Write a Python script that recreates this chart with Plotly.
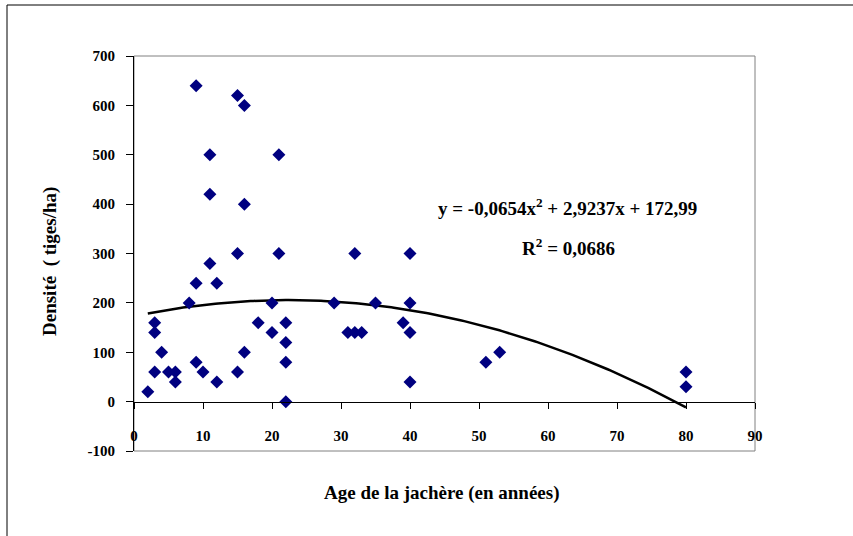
import numpy as np
import plotly.graph_objects as go

# Data
age = [2, 3, 3, 3, 4, 5, 6, 6, 8, 9, 9, 9, 10, 11, 11, 11, 12, 12,
       15, 15, 15, 16, 16, 16, 18, 20, 20, 21, 21, 22, 22, 22, 22,
       29, 31, 32, 32, 33, 35, 39, 40, 40, 40, 40, 51, 53, 80, 80]
densite = [20, 160, 140, 60, 100, 60, 60, 40, 200, 640, 240, 80, 60, 500, 420, 280, 240, 40,
           620, 300, 60, 600, 400, 100, 160, 200, 140, 500, 300, 160, 120, 80, 0,
           200, 140, 300, 140, 140, 200, 160, 300, 200, 140, 40, 80, 100, 60, 30]

# Polynomial trend line coefficients as displayed on the chart
coef_a, coef_b, coef_c = -0.0654, 2.9237, 172.99
trend_x = np.linspace(min(age), max(age), 200)
trend_y = coef_a * trend_x**2 + coef_b * trend_x + coef_c

x_ticks = list(range(0, 91, 10))
y_ticks = list(range(-100, 701, 100))
y_tick_text = ["-100", "0", "100", "200", "300", "400", "500", "600", "700"]

FONT = "Liberation Serif"
W, H = 853, 536
L, R, T, B = 134, 98, 56, 85
pw, ph = W - L - R, H - T - B

def px_x(p):
    return (p - L) / pw

def px_y(p):
    return (H - B - p) / ph

fig = go.Figure()
fig.add_trace(go.Scatter(
    x=trend_x, y=trend_y, mode="lines",
    line=dict(color="black", width=2.5), hoverinfo="skip", showlegend=False))
fig.add_trace(go.Scatter(
    x=age, y=densite, mode="markers",
    marker=dict(symbol="diamond", size=10, color="#000080", line=dict(width=0)),
    showlegend=False))

ann_font = dict(family=FONT, size=19, weight="bold", color="black")

fig.update_layout(
    width=W, height=H,
    margin=dict(l=L, r=R, t=T, b=B),
    paper_bgcolor="white", plot_bgcolor="white",
    font=dict(family=FONT, size=13, color="black", weight="bold"),
    xaxis=dict(range=[0, 90], tickvals=x_ticks, showgrid=False, zeroline=False,
               showline=True, linecolor="black", linewidth=1,
               ticks="outside", ticklen=6, tickcolor="black",
               anchor="free", position=0.125, ticklabelstandoff=14,
               tickfont=dict(family=FONT, size=15, weight="bold")),
    yaxis=dict(range=[-100, 700], tickvals=y_ticks, ticktext=y_tick_text,
               showgrid=False, zeroline=False,
               showline=True, linecolor="black", linewidth=1,
               ticks="outside", ticklen=7, tickcolor="black",
               ticklabelstandoff=8,
               tickfont=dict(family=FONT, size=15, weight="bold")),
    shapes=[
        dict(type="rect", xref="paper", yref="paper", x0=0, y0=0, x1=1, y1=1,
             line=dict(color="#808080", width=1), layer="below"),
        dict(type="rect", xref="paper", yref="paper",
             x0=px_x(7), y0=px_y(560), x1=px_x(880), y1=px_y(5),
             line=dict(color="black", width=1)),
    ],
    annotations=[
        dict(text="y = -0,0654x<sup>2</sup> + 2,9237x + 172,99", x=px_x(567), y=px_y(207),
             xref="paper", yref="paper", showarrow=False,
             xanchor="center", yanchor="middle", font=ann_font),
        dict(text="R<sup>2</sup> = 0,0686", x=px_x(568), y=px_y(247),
             xref="paper", yref="paper", showarrow=False,
             xanchor="center", yanchor="middle", font=ann_font),
        dict(text="Age de la jachère (en années)", x=px_x(442), y=px_y(493),
             xref="paper", yref="paper", showarrow=False,
             xanchor="center", yanchor="middle", font=ann_font),
        dict(text="Densité  ( tiges/ha)", x=px_x(50), y=px_y(262),
             xref="paper", yref="paper", showarrow=False, textangle=-90,
             xanchor="center", yanchor="middle", font=ann_font),
    ],
)

fig.write_html("out.html")
